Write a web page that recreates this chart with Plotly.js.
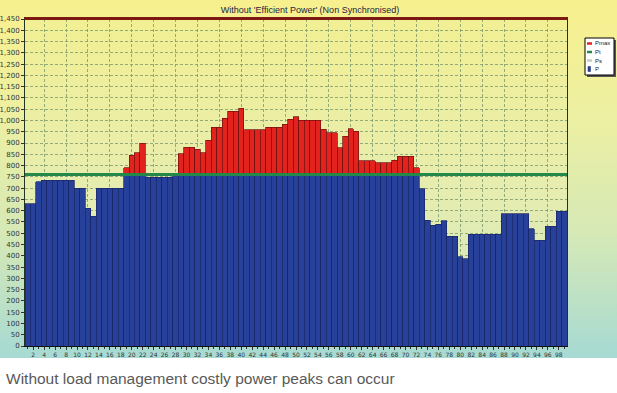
<!DOCTYPE html>
<html><head><meta charset="utf-8">
<script src="https://cdn.plot.ly/plotly-3.0.1.min.js"></script>
<style>
html,body{margin:0;padding:0;background:#fff;}
#wrap{position:relative;width:617px;height:393px;overflow:hidden;background:#fff;}
#outerbg{position:absolute;left:0;top:0;width:617px;height:358px;background:linear-gradient(to bottom,#f8f08e 0%,#eef0a0 30%,#d6e9b6 65%,#a6dad3 100%);}
#plotbg{position:absolute;left:25px;top:19px;width:542px;height:327px;background:linear-gradient(to bottom,#f2ef93 0%,#e7edae 50%,#d0e7c2 100%);}
#chart{position:absolute;left:0;top:0;width:617px;height:393px;}
</style></head><body>
<div id="wrap"><div id="outerbg"></div><div id="plotbg"></div><div id="chart"></div></div>
<script>
// ---- data ----
const intervals = [1,2,3,4,5,6,7,8,9,10,11,12,13,14,15,16,17,18,19,20,21,22,23,24,25,26,27,28,29,30,
  31,32,33,34,35,36,37,38,39,40,41,42,43,44,45,46,47,48,49,50,51,52,53,54,55,56,57,58,59,60,
  61,62,63,64,65,66,67,68,69,70,71,72,73,74,75,76,77,78,79,80,81,82,83,84,85,86,87,88,89,90,
  91,92,93,94,95,96,97,98,99];
const P = [630,630,728,735,735,735,735,735,735,700,700,610,575,700,700,700,700,700,790,845,
  857,900,748,748,748,748,748,760,852,882,882,872,858,912,971,971,1010,1042,1042,1054,
  960,960,960,960,971,971,971,983,1005,1017,1001,1001,1001,1001,962,946,946,879,931,964,
  952,822,822,822,813,813,813,824,842,842,842,790,698,557,535,541,556,486,486,395,
  388,495,495,495,495,495,495,586,586,586,586,586,520,468,468,531,531,597,597];
const PT = 760;     // Pt (contracted power)
const PMAX = 1450;  // Pmax
const seriesNames = ['Pmax','Pt','Ps','P'];
const title = "Without 'Efficient Power' (Non Synchronised)";
const caption = "Without load management costly power peaks can occur";

// ---- derived ----
const below = P.map(v => Math.min(v, PT));
const excess = P.map(v => v > PT ? v - PT : null);
const xLo = intervals[0] - 0.5, xHi = intervals[intervals.length-1] + 0.5;

// plot area in px (layout only)
const L = 25, R = 567, T = 19, B = 346;
const X = px => (px - L) / (R - L);
const Y = py => (B - py) / (B - T);

const traces = [
  {type:'bar', x:intervals, y:below, name:'P', showlegend:false,
   marker:{color:'#27409a', line:{color:'#1a2766', width:0.7}}, hoverinfo:'x+y'},
  {type:'bar', x:intervals, y:excess, name:'P excess', showlegend:false,
   marker:{color:'#e2221c', line:{color:'#6e1010', width:0.7}}},
  {type:'scatter', mode:'lines', x:[xLo, xHi], y:[PT, PT], name:'Pt', showlegend:false,
   line:{color:'#24884a', width:3}},
  {type:'scatter', mode:'lines', x:[xLo, xHi], y:[PMAX, PMAX], name:'Pmax', showlegend:false,
   xaxis:'x2', line:{color:'#7a1a12', width:2}}
];

// custom legend
const legColors = ['#e2221c', '#24884a', '#c8c8c8', '#27409a'];
const rows = [43.5, 52, 60.5, 69];
const shapes = [
  {type:'rect', xref:'paper', yref:'paper', x0:X(587), x1:X(616), y0:Y(77), y1:Y(40),
   fillcolor:'#555', line:{width:0}},
  {type:'rect', xref:'paper', yref:'paper', x0:X(585), x1:X(614), y0:Y(75), y1:Y(38),
   fillcolor:'#ffffff', line:{color:'#000', width:1}}
];
const annotations = [];
seriesNames.forEach((n, i) => {
  const r = rows[i];
  if (n === 'P') {
    shapes.push({type:'rect', xref:'paper', yref:'paper', x0:X(588), x1:X(590.5), y0:Y(r+2.5), y1:Y(r-2.5),
      fillcolor:legColors[i], line:{color:'#1a2766', width:0.5}});
  } else {
    shapes.push({type:'line', xref:'paper', yref:'paper', x0:X(587), x1:X(592), y0:Y(r), y1:Y(r),
      line:{color:legColors[i], width:2.5}});
  }
  annotations.push({xref:'paper', yref:'paper', x:X(592.5), y:Y(r), xanchor:'left', yanchor:'middle',
    text:n, showarrow:false, font:{family:'Liberation Sans, Arial', size:6, color:'#222'}});
});
annotations.push({xref:'paper', yref:'paper', x:X(4), y:Y(378), xanchor:'left', yanchor:'middle',
  text:caption, showarrow:false, font:{family:'Liberation Sans, Arial', size:15.5, color:'#595959'}});

const layout = {
  width:617, height:393,
  margin:{l:L, r:617-R, t:T, b:393-B, pad:0},
  paper_bgcolor:'rgba(0,0,0,0)', plot_bgcolor:'rgba(0,0,0,0)',
  barmode:'stack', bargap:0,
  showlegend:false,
  title:{text:title, x:310/617, xanchor:'center', y:1-10/393, yanchor:'middle',
    font:{family:'Liberation Sans, Arial', size:9, color:'#1d2440'}},
  xaxis:{range:[xLo, xHi], tickmode:'linear', tick0:2, dtick:2, showgrid:false, zeroline:false,
    ticks:'outside', ticklen:3, tickcolor:'#333', tickwidth:1,
    minor:{tick0:1, dtick:1, ticks:'outside', ticklen:2, tickcolor:'#333', showgrid:false},
    showline:true, linecolor:'#111', linewidth:1,
    tickfont:{family:'DejaVu Sans', size:6, color:'#333'}},
  xaxis2:{overlaying:'x', side:'top', range:[xLo, xHi], tickmode:'linear', tick0:0, dtick:4,
    showgrid:true, gridcolor:'#7d9a6c', griddash:'3px,2px', gridwidth:0.8,
    showticklabels:false, ticks:'', zeroline:false,
    showline:true, linecolor:'#7a1a12', linewidth:2},
  yaxis:{range:[0, PMAX], tickmode:'linear', tick0:0, dtick:50, tickformat:',d',
    showgrid:true, gridcolor:'#7d9a6c', griddash:'3px,2px', gridwidth:0.8, zeroline:false,
    ticks:'outside', ticklen:3, tickcolor:'#333',
    showline:true, linecolor:'#223322', linewidth:1, mirror:true,
    tickfont:{family:'DejaVu Sans', size:7, color:'#333'}},
  shapes:shapes, annotations:annotations
};
Plotly.newPlot('chart', traces, layout, {displayModeBar:false, staticPlot:true});
</script>
</body></html>
